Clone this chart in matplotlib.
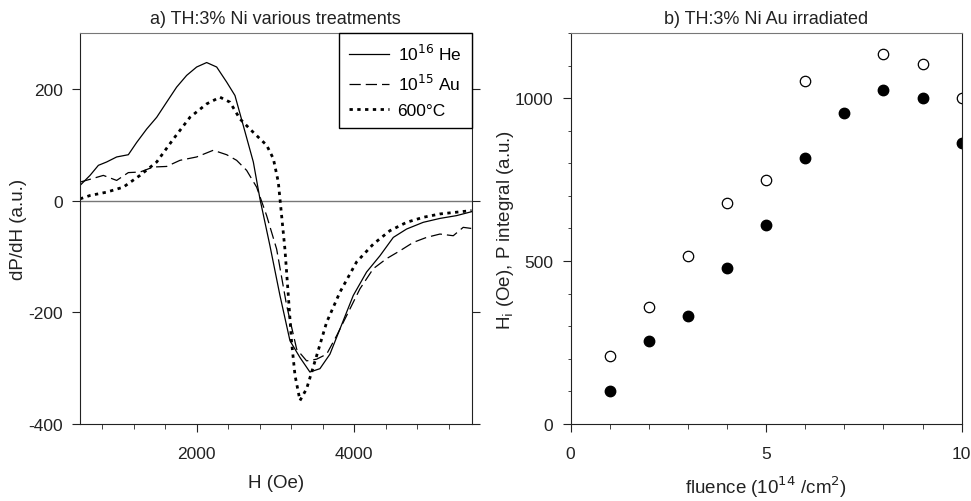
import matplotlib
matplotlib.use("Agg")
import matplotlib.pyplot as plt
from matplotlib.ticker import MultipleLocator

plt.rcParams["font.family"] = ["Liberation Sans", "DejaVu Sans"]
plt.rcParams["font.size"] = 12.5
plt.rcParams["axes.unicode_minus"] = False

# a) dP/dH spectra
h_he = [520, 647, 753, 858, 985, 1133, 1239, 1366, 1493, 1619, 1746, 1873, 2000,
        2127, 2254, 2381, 2486, 2592, 2719, 2803, 2930, 3057, 3184, 3311, 3437,
        3564, 3691, 3818, 3987, 4156, 4325, 4495, 4664, 4875, 5087, 5298, 5488]
dp_he = [27, 45, 63, 69, 78, 82, 104, 128, 149, 176, 203, 224, 239,
         247, 239, 212, 188, 134, 69, 3, -81, -170, -251, -281, -307,
         -301, -275, -230, -170, -128, -99, -66, -51, -39, -32, -27, -20]

h_au = [520, 647, 816, 985, 1133, 1281, 1450, 1619, 1789, 2000, 2211, 2381, 2507,
        2634, 2761, 2888, 3015, 3142, 3269, 3395, 3522, 3649, 3776, 3903, 4072,
        4241, 4410, 4579, 4748, 4917, 5087, 5256, 5382, 5488]
dp_au = [33, 38, 45, 36, 50, 51, 60, 61, 72, 78, 90, 82, 72,
         54, 24, -27, -87, -188, -266, -287, -284, -275, -242, -206, -158,
         -122, -104, -90, -75, -66, -60, -63, -48, -50]

h_600 = [520, 647, 858, 1070, 1281, 1493, 1704, 1915, 2127, 2296, 2423, 2550, 2719,
         2888, 2973, 3036, 3078, 3120, 3163, 3205, 3248, 3311, 3395, 3522, 3649,
         3818, 4029, 4241, 4452, 4664, 4875, 5087, 5488]
dp_600 = [3, 9, 15, 24, 45, 69, 110, 149, 173, 185, 176, 146, 122,
          99, 75, 33, -27, -87, -170, -254, -313, -358, -337, -278, -218,
          -164, -110, -78, -54, -39, -30, -24, -18]

# b) fluence series (open and filled symbols)
fluence_open = [1, 2, 3, 4, 5, 6, 8, 9, 10]
val_open = [210, 360, 514, 678, 750, 1051, 1135, 1106, 1000]
fluence_fill = [1, 2, 3, 4, 5, 6, 7, 8, 9, 10]
val_fill = [101, 256, 330, 478, 610, 815, 954, 1026, 1001, 861]

fig = plt.figure(figsize=(9.71, 5.02), dpi=100)
ax1 = fig.add_axes([0.0824, 0.1534, 0.4034, 0.779])
ax2 = fig.add_axes([0.5877, 0.1534, 0.4027, 0.779])

dark = "#222222"
grey = "#777777"

# panel a
ax1.axhline(0, color=grey, lw=1.0, zorder=1)
ax1.plot(h_he, dp_he, color="black", lw=0.9, label="10$^{16}$ He")
ax1.plot(h_au, dp_au, color="black", lw=0.9, dashes=(9, 4), label="10$^{15}$ Au")
ax1.plot(h_600, dp_600, color="black", lw=2.0, dashes=(1.2, 1.6), label="600°C")
ax1.set_xlim(520, 5490)
ax1.set_ylim(-400, 300)
ax1.xaxis.set_major_locator(MultipleLocator(2000))
ax1.xaxis.set_minor_locator(MultipleLocator(400))
ax1.yaxis.set_major_locator(MultipleLocator(200))
ax1.tick_params(axis="both", which="both", direction="out", colors=dark,
                labelcolor=dark, labelsize=12.5, pad=6.5)
ax1.tick_params(axis="x", which="both", pad=10)
ax1.tick_params(axis="y", right=True)
ax1.tick_params(which="major", length=6)
ax1.tick_params(which="minor", length=3.5)
ax1.set_xlabel("H (Oe)", color=dark, fontsize=13.5, labelpad=9)
ax1.set_ylabel("dP/dH (a.u.)", color=dark, fontsize=13.5, labelpad=1)
ax1.set_title("a) TH:3% Ni various treatments", color=dark, fontsize=13, pad=7)
leg = ax1.legend(loc="upper right", fancybox=False, framealpha=1, edgecolor="black",
                 handlelength=2.3, handletextpad=0.5, borderaxespad=0.0,
                 fontsize=12.5, labelspacing=0.55, borderpad=0.6)
leg.get_frame().set_linewidth(1.0)
for s in ax1.spines.values():
    s.set_color(dark)
ax1.spines["top"].set_color(grey)

# panel b
ax2.plot(fluence_open, val_open, "o", ms=7.5, mfc="white", mec="black", mew=0.9)
ax2.plot(fluence_fill, val_fill, "o", ms=7.5, mfc="black", mec="black")
ax2.set_xlim(0, 10)
ax2.set_ylim(0, 1200)
ax2.xaxis.set_major_locator(MultipleLocator(5))
ax2.xaxis.set_minor_locator(MultipleLocator(1))
ax2.yaxis.set_major_locator(MultipleLocator(500))
ax2.yaxis.set_minor_locator(MultipleLocator(100))
ax2.tick_params(axis="both", which="both", direction="out", colors=dark,
                labelcolor=dark, labelsize=12.5, pad=6.5)
ax2.tick_params(axis="x", which="both", pad=10)
ax2.tick_params(which="major", length=6)
ax2.tick_params(axis="x", which="minor", length=3.5)
ax2.tick_params(axis="y", which="minor", length=2.5)
ax2.set_xlabel("fluence (10$^{14}$ /cm$^2$)", color=dark, fontsize=13.5, labelpad=9)
ax2.set_ylabel("H$_\\mathrm{i}$ (Oe), P integral (a.u.)", color=dark, fontsize=13.5, labelpad=-1)
ax2.set_title("b) TH:3% Ni Au irradiated", color=dark, fontsize=13, pad=7)
for s in ax2.spines.values():
    s.set_color(dark)
ax2.spines["top"].set_color(grey)

fig.savefig("out.png", dpi=100)
